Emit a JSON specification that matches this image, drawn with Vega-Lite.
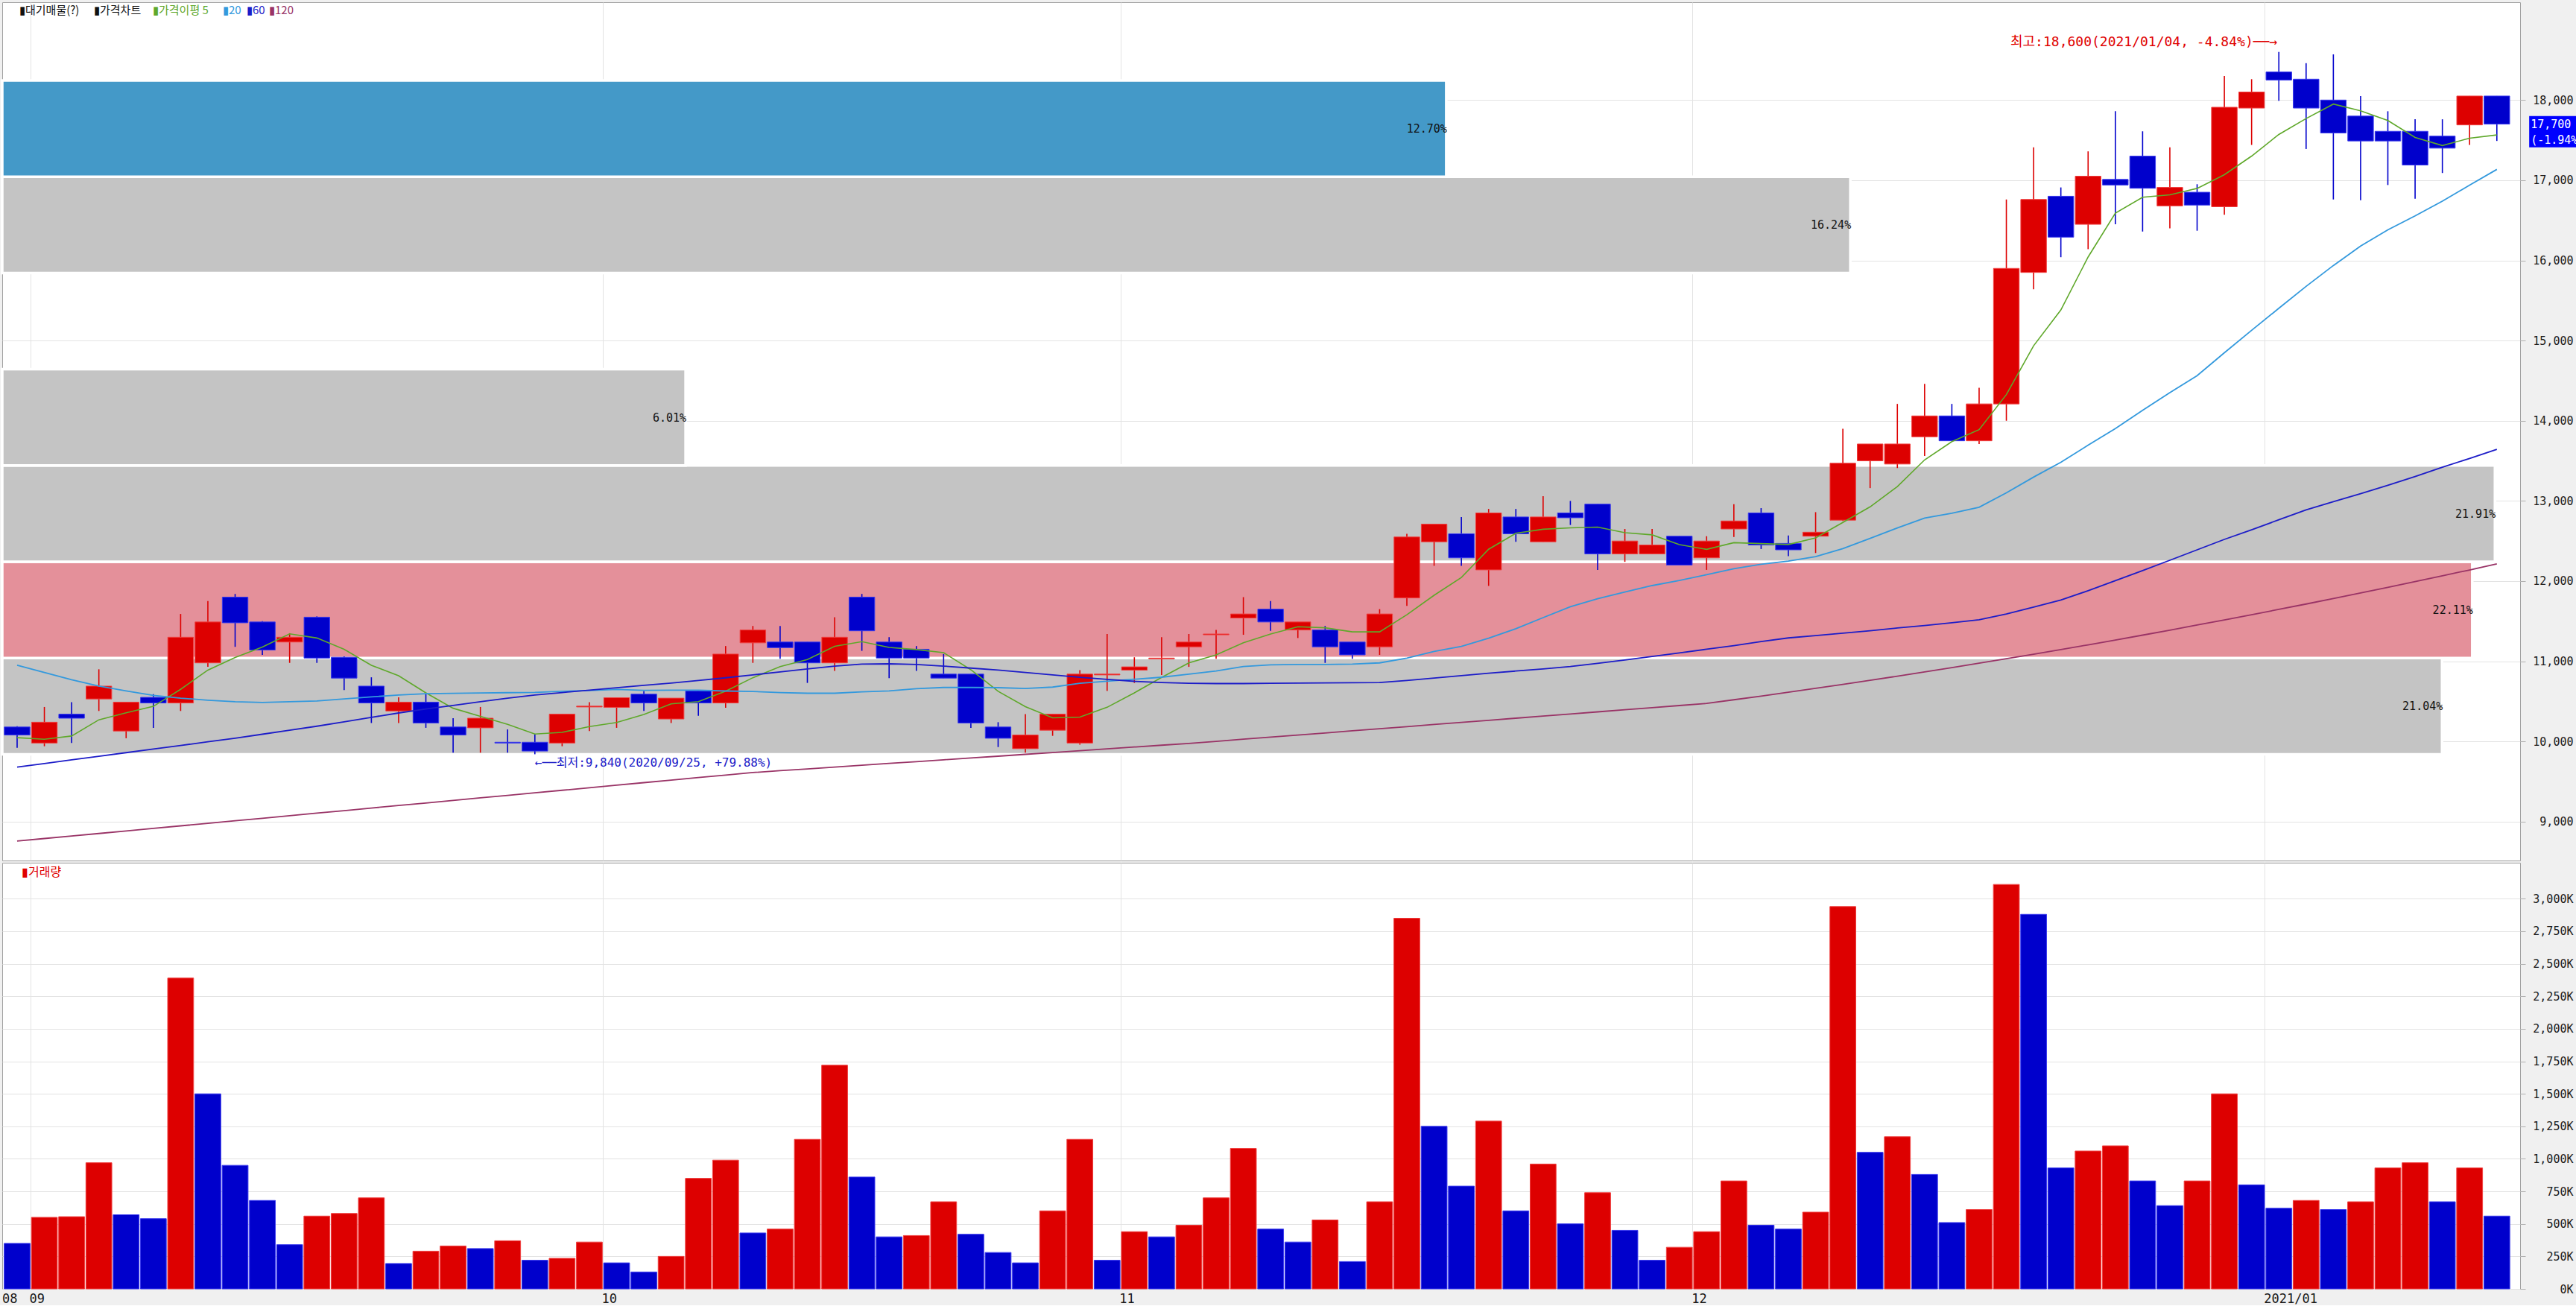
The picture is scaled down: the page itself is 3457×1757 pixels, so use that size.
{
"$schema": "https://vega.github.io/schema/vega-lite/v6.json",
"background": "#f0f0f0",
"padding": {"left": 0, "top": 2, "right": 0, "bottom": 0},
"spacing": 1,
"config": {
  "view": {"fill": "white", "stroke": "#a0a0a0"},
  "axis": {"domain": false, "gridColor": "#e3e3e3", "tickColor": "#b0b0b0", "labelFont": "DejaVu Sans Mono", "labelFontSize": 15, "labelColor": "#1a1a1a"},
  "text": {"font": "Noto Sans CJK KR"}
},
"datasets": {
"bands": [
 {"lo": 9840, "hi": 11041, "amt": 0.969, "pct": "21.04%", "kind": "n"},
 {"lo": 11041, "hi": 12241, "amt": 0.981, "pct": "22.11%", "kind": "max"},
 {"lo": 12241, "hi": 13442, "amt": 0.99, "pct": "21.91%", "kind": "n"},
 {"lo": 13442, "hi": 14643, "amt": 0.2714, "pct": "6.01%", "kind": "n"},
 {"lo": 15843, "hi": 17044, "amt": 0.734, "pct": "16.24%", "kind": "n"},
 {"lo": 17044, "hi": 18245, "amt": 0.5735, "pct": "12.70%", "kind": "cur"}
],
"k": [
{"d":"2020-08-31","o":10180,"h":10190,"l":9920,"c":10080,"v":350000,"vd":"d","m5":10047,"m20":10950,"m60":9680,"m120":8757},
{"d":"2020-09-01","o":9980,"h":10430,"l":9940,"c":10240,"v":550000,"vd":"u","m5":10028,"m20":10860,"m60":9725,"m120":8789},
{"d":"2020-09-02","o":10340,"h":10490,"l":9980,"c":10290,"v":555000,"vd":"u","m5":10068,"m20":10770,"m60":9770,"m120":8820},
{"d":"2020-09-03","o":10530,"h":10900,"l":10380,"c":10690,"v":970000,"vd":"u","m5":10270,"m20":10690,"m60":9815,"m120":8852},
{"d":"2020-09-04","o":10130,"h":10490,"l":10040,"c":10490,"v":570000,"vd":"d","m5":10358,"m20":10630,"m60":9860,"m120":8884},
{"d":"2020-09-07","o":10550,"h":10590,"l":10170,"c":10480,"v":540000,"vd":"d","m5":10438,"m20":10575,"m60":9905,"m120":8916},
{"d":"2020-09-08","o":10480,"h":11590,"l":10380,"c":11300,"v":2390000,"vd":"u","m5":10650,"m20":10540,"m60":9950,"m120":8947},
{"d":"2020-09-09","o":10980,"h":11750,"l":10930,"c":11490,"v":1500000,"vd":"d","m5":10890,"m20":10515,"m60":9995,"m120":8979},
{"d":"2020-09-10","o":11800,"h":11840,"l":11180,"c":11480,"v":950000,"vd":"d","m5":11048,"m20":10495,"m60":10040,"m120":9011},
{"d":"2020-09-11","o":11490,"h":11500,"l":11080,"c":11140,"v":680000,"vd":"d","m5":11178,"m20":10487,"m60":10090,"m120":9042},
{"d":"2020-09-14","o":11240,"h":11350,"l":10980,"c":11300,"v":340000,"vd":"d","m5":11342,"m20":10495,"m60":10140,"m120":9074},
{"d":"2020-09-15","o":11550,"h":11560,"l":10980,"c":11040,"v":560000,"vd":"u","m5":11290,"m20":10505,"m60":10190,"m120":9106},
{"d":"2020-09-16","o":11050,"h":11060,"l":10640,"c":10790,"v":580000,"vd":"u","m5":11150,"m20":10530,"m60":10245,"m120":9137},
{"d":"2020-09-17","o":10690,"h":10800,"l":10230,"c":10480,"v":700000,"vd":"u","m5":10950,"m20":10555,"m60":10300,"m120":9169},
{"d":"2020-09-18","o":10380,"h":10550,"l":10230,"c":10490,"v":195000,"vd":"d","m5":10820,"m20":10580,"m60":10355,"m120":9201},
{"d":"2020-09-21","o":10490,"h":10590,"l":10170,"c":10230,"v":290000,"vd":"u","m5":10606,"m20":10595,"m60":10405,"m120":9232},
{"d":"2020-09-22","o":10180,"h":10290,"l":9860,"c":10080,"v":330000,"vd":"u","m5":10414,"m20":10600,"m60":10450,"m120":9264},
{"d":"2020-09-23","o":10170,"h":10430,"l":9860,"c":10290,"v":310000,"vd":"d","m5":10314,"m20":10605,"m60":10495,"m120":9296},
{"d":"2020-09-24","o":9990,"h":10150,"l":9860,"c":9980,"v":370000,"vd":"u","m5":10214,"m20":10608,"m60":10540,"m120":9327},
{"d":"2020-09-25","o":9990,"h":10090,"l":9840,"c":9880,"v":220000,"vd":"d","m5":10092,"m20":10612,"m60":10580,"m120":9359},
{"d":"2020-09-28","o":9980,"h":10340,"l":9940,"c":10340,"v":235000,"vd":"u","m5":10114,"m20":10625,"m60":10610,"m120":9391},
{"d":"2020-09-29","o":10430,"h":10490,"l":10130,"c":10440,"v":360000,"vd":"u","m5":10186,"m20":10635,"m60":10640,"m120":9422},
{"d":"2020-10-05","o":10425,"h":10545,"l":10170,"c":10545,"v":200000,"vd":"d","m5":10237,"m20":10648,"m60":10670,"m120":9454},
{"d":"2020-10-06","o":10590,"h":10630,"l":10380,"c":10480,"v":130000,"vd":"d","m5":10337,"m20":10637,"m60":10700,"m120":9486},
{"d":"2020-10-07","o":10280,"h":10540,"l":10230,"c":10540,"v":250000,"vd":"u","m5":10469,"m20":10640,"m60":10728,"m120":9517},
{"d":"2020-10-08","o":10630,"h":10630,"l":10320,"c":10480,"v":850000,"vd":"u","m5":10496,"m20":10640,"m60":10760,"m120":9549},
{"d":"2020-10-12","o":10480,"h":11190,"l":10420,"c":11090,"v":990000,"vd":"u","m5":10626,"m20":10629,"m60":10794,"m120":9581},
{"d":"2020-10-13","o":11230,"h":11440,"l":10980,"c":11390,"v":430000,"vd":"d","m5":10795,"m20":10624,"m60":10830,"m120":9612},
{"d":"2020-10-14","o":11240,"h":11440,"l":11030,"c":11170,"v":460000,"vd":"u","m5":10934,"m20":10609,"m60":10868,"m120":9635},
{"d":"2020-10-15","o":11240,"h":11240,"l":10730,"c":10980,"v":1150000,"vd":"u","m5":11022,"m20":10601,"m60":10905,"m120":9657},
{"d":"2020-10-16","o":10980,"h":11550,"l":10880,"c":11300,"v":1720000,"vd":"u","m5":11186,"m20":10601,"m60":10940,"m120":9680},
{"d":"2020-10-19","o":11800,"h":11840,"l":11130,"c":11380,"v":860000,"vd":"d","m5":11245,"m20":10618,"m60":10965,"m120":9703},
{"d":"2020-10-20","o":11240,"h":11300,"l":10790,"c":11040,"v":400000,"vd":"d","m5":11173,"m20":10630,"m60":10968,"m120":9726},
{"d":"2020-10-21","o":11150,"h":11190,"l":10880,"c":11040,"v":410000,"vd":"u","m5":11146,"m20":10658,"m60":10960,"m120":9748},
{"d":"2020-10-22","o":10840,"h":11090,"l":10790,"c":10790,"v":670000,"vd":"u","m5":11107,"m20":10673,"m60":10940,"m120":9771},
{"d":"2020-10-23","o":10840,"h":10840,"l":10170,"c":10230,"v":420000,"vd":"d","m5":10894,"m20":10673,"m60":10915,"m120":9794},
{"d":"2020-10-26","o":10180,"h":10240,"l":9930,"c":10040,"v":280000,"vd":"d","m5":10625,"m20":10671,"m60":10890,"m120":9816},
{"d":"2020-10-27","o":9910,"h":10340,"l":9860,"c":10080,"v":200000,"vd":"d","m5":10434,"m20":10660,"m60":10860,"m120":9839},
{"d":"2020-10-28","o":10140,"h":10340,"l":10070,"c":10340,"v":600000,"vd":"u","m5":10294,"m20":10678,"m60":10830,"m120":9862},
{"d":"2020-10-29","o":9980,"h":10890,"l":9960,"c":10840,"v":1150000,"vd":"u","m5":10304,"m20":10726,"m60":10800,"m120":9885},
{"d":"2020-10-30","o":10830,"h":11340,"l":10630,"c":10840,"v":220000,"vd":"d","m5":10426,"m20":10751,"m60":10775,"m120":9907},
{"d":"2020-11-02","o":10890,"h":11050,"l":10730,"c":10930,"v":440000,"vd":"u","m5":10606,"m20":10776,"m60":10750,"m120":9930},
{"d":"2020-11-03","o":11030,"h":11300,"l":10830,"c":11040,"v":400000,"vd":"d","m5":10798,"m20":10801,"m60":10735,"m120":9953},
{"d":"2020-11-04","o":11180,"h":11340,"l":10930,"c":11240,"v":490000,"vd":"u","m5":10979,"m20":10839,"m60":10725,"m120":9975},
{"d":"2020-11-05","o":11330,"h":11390,"l":11030,"c":11340,"v":700000,"vd":"u","m5":11079,"m20":10879,"m60":10722,"m120":10001},
{"d":"2020-11-06","o":11540,"h":11800,"l":11330,"c":11590,"v":1080000,"vd":"u","m5":11230,"m20":10935,"m60":10722,"m120":10028},
{"d":"2020-11-09","o":11650,"h":11750,"l":11380,"c":11490,"v":460000,"vd":"d","m5":11340,"m20":10955,"m60":10725,"m120":10054},
{"d":"2020-11-10","o":11390,"h":11490,"l":11290,"c":11490,"v":360000,"vd":"d","m5":11430,"m20":10960,"m60":10728,"m120":10080},
{"d":"2020-11-11","o":11390,"h":11440,"l":10980,"c":11180,"v":530000,"vd":"u","m5":11418,"m20":10960,"m60":10730,"m120":10106},
{"d":"2020-11-12","o":11240,"h":11240,"l":11030,"c":11080,"v":210000,"vd":"d","m5":11367,"m20":10965,"m60":10732,"m120":10133},
{"d":"2020-11-13","o":11180,"h":11650,"l":11080,"c":11590,"v":670000,"vd":"u","m5":11367,"m20":10980,"m60":10735,"m120":10159},
{"d":"2020-11-16","o":11790,"h":12590,"l":11690,"c":12550,"v":2850000,"vd":"u","m5":11580,"m20":11038,"m60":10760,"m120":10185},
{"d":"2020-11-17","o":12490,"h":12710,"l":12190,"c":12710,"v":1250000,"vd":"d","m5":11823,"m20":11122,"m60":10790,"m120":10212},
{"d":"2020-11-18","o":12590,"h":12800,"l":12190,"c":12290,"v":790000,"vd":"d","m5":12045,"m20":11185,"m60":10820,"m120":10238},
{"d":"2020-11-19","o":12140,"h":12900,"l":11940,"c":12850,"v":1290000,"vd":"u","m5":12397,"m20":11288,"m60":10850,"m120":10264},
{"d":"2020-11-20","o":12800,"h":12900,"l":12490,"c":12590,"v":600000,"vd":"d","m5":12596,"m20":11406,"m60":10878,"m120":10290},
{"d":"2020-11-23","o":12490,"h":13060,"l":12490,"c":12800,"v":960000,"vd":"u","m5":12647,"m20":11544,"m60":10905,"m120":10317},
{"d":"2020-11-24","o":12850,"h":13000,"l":12700,"c":12790,"v":500000,"vd":"d","m5":12664,"m20":11680,"m60":10935,"m120":10343},
{"d":"2020-11-25","o":12960,"h":12960,"l":12140,"c":12340,"v":740000,"vd":"u","m5":12673,"m20":11780,"m60":10975,"m120":10369},
{"d":"2020-11-26","o":12340,"h":12650,"l":12240,"c":12500,"v":450000,"vd":"d","m5":12603,"m20":11863,"m60":11015,"m120":10396},
{"d":"2020-11-27","o":12340,"h":12650,"l":12340,"c":12450,"v":220000,"vd":"d","m5":12577,"m20":11944,"m60":11060,"m120":10422},
{"d":"2020-11-30","o":12560,"h":12560,"l":12200,"c":12200,"v":320000,"vd":"u","m5":12455,"m20":12007,"m60":11105,"m120":10448},
{"d":"2020-12-01","o":12290,"h":12560,"l":12140,"c":12500,"v":440000,"vd":"u","m5":12396,"m20":12080,"m60":11150,"m120":10474},
{"d":"2020-12-02","o":12650,"h":12960,"l":12550,"c":12750,"v":830000,"vd":"u","m5":12479,"m20":12155,"m60":11195,"m120":10520},
{"d":"2020-12-03","o":12850,"h":12910,"l":12400,"c":12450,"v":490000,"vd":"d","m5":12468,"m20":12210,"m60":11245,"m120":10566},
{"d":"2020-12-04","o":12470,"h":12570,"l":12310,"c":12390,"v":460000,"vd":"d","m5":12456,"m20":12250,"m60":11291,"m120":10614},
{"d":"2020-12-07","o":12560,"h":12860,"l":12350,"c":12610,"v":590000,"vd":"u","m5":12539,"m20":12306,"m60":11320,"m120":10662},
{"d":"2020-12-08","o":12760,"h":13900,"l":12750,"c":13470,"v":2940000,"vd":"u","m5":12732,"m20":12405,"m60":11350,"m120":10712},
{"d":"2020-12-09","o":13500,"h":13710,"l":13160,"c":13710,"v":1050000,"vd":"d","m5":12926,"m20":12532,"m60":11380,"m120":10763},
{"d":"2020-12-10","o":13460,"h":14210,"l":13410,"c":13710,"v":1170000,"vd":"u","m5":13179,"m20":12663,"m60":11415,"m120":10814},
{"d":"2020-12-11","o":13800,"h":14460,"l":13560,"c":14060,"v":880000,"vd":"d","m5":13512,"m20":12786,"m60":11445,"m120":10867},
{"d":"2020-12-14","o":14060,"h":14210,"l":13750,"c":13750,"v":510000,"vd":"d","m5":13740,"m20":12846,"m60":11480,"m120":10921},
{"d":"2020-12-15","o":13750,"h":14410,"l":13710,"c":14210,"v":610000,"vd":"u","m5":13889,"m20":12921,"m60":11517,"m120":10976},
{"d":"2020-12-16","o":14210,"h":16760,"l":14000,"c":15900,"v":3110000,"vd":"u","m5":14326,"m20":13101,"m60":11590,"m120":11032},
{"d":"2020-12-17","o":15850,"h":17410,"l":15640,"c":16760,"v":2880000,"vd":"d","m5":14935,"m20":13297,"m60":11675,"m120":11088},
{"d":"2020-12-18","o":16800,"h":16910,"l":16040,"c":16290,"v":930000,"vd":"d","m5":15382,"m20":13482,"m60":11763,"m120":11146},
{"d":"2020-12-21","o":16450,"h":17360,"l":16140,"c":17050,"v":1060000,"vd":"u","m5":16042,"m20":13695,"m60":11880,"m120":11205},
{"d":"2020-12-22","o":17010,"h":17860,"l":16450,"c":16940,"v":1100000,"vd":"u","m5":16589,"m20":13902,"m60":12005,"m120":11265},
{"d":"2020-12-23","o":17300,"h":17610,"l":16360,"c":16900,"v":830000,"vd":"d","m5":16788,"m20":14130,"m60":12131,"m120":11326},
{"d":"2020-12-24","o":16680,"h":17410,"l":16400,"c":16910,"v":640000,"vd":"d","m5":16818,"m20":14350,"m60":12260,"m120":11388},
{"d":"2020-12-28","o":16850,"h":16950,"l":16370,"c":16690,"v":830000,"vd":"u","m5":16898,"m20":14562,"m60":12390,"m120":11452},
{"d":"2020-12-29","o":16670,"h":18300,"l":16570,"c":17910,"v":1500000,"vd":"u","m5":17069,"m20":14848,"m60":12520,"m120":11516},
{"d":"2020-12-30","o":17900,"h":18260,"l":17440,"c":18100,"v":800000,"vd":"d","m5":17301,"m20":15128,"m60":12640,"m120":11581},
{"d":"2021-01-04","o":18350,"h":18600,"l":17990,"c":18250,"v":620000,"vd":"d","m5":17571,"m20":15403,"m60":12765,"m120":11647},
{"d":"2021-01-05","o":18260,"h":18460,"l":17390,"c":17900,"v":680000,"vd":"u","m5":17769,"m20":15676,"m60":12888,"m120":11714},
{"d":"2021-01-06","o":18000,"h":18570,"l":16760,"c":17590,"v":610000,"vd":"d","m5":17950,"m20":15936,"m60":12990,"m120":11782},
{"d":"2021-01-07","o":17800,"h":18050,"l":16750,"c":17490,"v":670000,"vd":"u","m5":17866,"m20":16180,"m60":13090,"m120":11852},
{"d":"2021-01-08","o":17610,"h":17860,"l":16940,"c":17490,"v":930000,"vd":"u","m5":17744,"m20":16381,"m60":13194,"m120":11922},
{"d":"2021-01-11","o":17610,"h":17760,"l":16770,"c":17190,"v":970000,"vd":"u","m5":17533,"m20":16555,"m60":13305,"m120":11993},
{"d":"2021-01-12","o":17550,"h":17760,"l":17090,"c":17400,"v":670000,"vd":"d","m5":17433,"m20":16739,"m60":13420,"m120":12066},
{"d":"2021-01-13","o":17690,"h":18050,"l":17440,"c":18050,"v":930000,"vd":"u","m5":17524,"m20":16938,"m60":13530,"m120":12139},
{"d":"2021-01-14","o":18050,"h":18050,"l":17490,"c":17700,"v":560000,"vd":"d","m5":17565,"m20":17135,"m60":13644,"m120":12214}
]
},
"vconcat": [
{
  "width": 3379, "height": 1152,
  "resolve": {"scale": {"x": "independent"}},
  "layer": [
    {
      "data": {"name": "bands"},
      "layer": [
        {"mark": {"type": "rect", "stroke": "white", "strokeWidth": 3.5},
         "encoding": {
           "x": {"field": "amt", "type": "quantitative", "scale": {"domain": [0, 1], "nice": false, "zero": true}, "axis": null},
           "x2": {"datum": 0},
           "y": {"field": "lo", "type": "quantitative", "scale": {"domain": [8515, 19220], "nice": false, "zero": false},
                 "axis": {"orient": "right", "values": [9000, 10000, 11000, 12000, 13000, 14000, 15000, 16000, 17000, 18000], "labelExpr": "format(datum.value, ',')", "grid": true, "ticks": true, "tickSize": 7, "labelAlign": "right", "labelPadding": 64, "title": null}},
           "y2": {"field": "hi"},
           "color": {"field": "kind", "type": "nominal", "scale": {"domain": ["cur", "max", "n"], "range": ["#4499c8", "#e4909a", "#c4c4c4"]}, "legend": null}
         }},
        {"mark": {"type": "text", "align": "right", "baseline": "middle", "dy": -64, "dx": 1, "font": "DejaVu Sans Mono", "fontSize": 15, "color": "#111111"},
         "encoding": {
           "x": {"field": "amt", "type": "quantitative", "scale": {"domain": [0, 1], "nice": false, "zero": true}, "axis": null},
           "y": {"field": "lo", "type": "quantitative", "scale": {"domain": [8515, 19220], "nice": false, "zero": false},
                 "axis": {"orient": "right", "values": [9000, 10000, 11000, 12000, 13000, 14000, 15000, 16000, 17000, 18000], "labelExpr": "format(datum.value, ',')", "grid": true, "ticks": true, "tickSize": 7, "labelAlign": "right", "labelPadding": 64, "title": null}},
           "text": {"field": "pct"}
         }}
      ]
    },
    {
      "data": {"name": "k"},
      "encoding": {
        "x": {"field": "d", "type": "ordinal", "scale": {"paddingInner": 0, "paddingOuter": 0.2, "align": 0.116},
              "axis": {"values": ["2020-09-01", "2020-10-05", "2020-11-02", "2020-12-01", "2021-01-04"], "bandPosition": 0, "grid": true, "labels": false, "ticks": false, "domain": false, "title": null}}
      },
      "layer": [
        {"mark": {"type": "rule", "strokeWidth": 1.6},
         "encoding": {
           "y": {"field": "l", "type": "quantitative", "scale": {"domain": [8515, 19220], "nice": false, "zero": false},
                 "axis": {"orient": "right", "values": [9000, 10000, 11000, 12000, 13000, 14000, 15000, 16000, 17000, 18000], "labelExpr": "format(datum.value, ',')", "grid": true, "ticks": true, "tickSize": 7, "labelAlign": "right", "labelPadding": 64, "title": null}},
           "y2": {"field": "h"},
           "color": {"condition": {"test": "datum.c > datum.o", "value": "#dd0000"}, "value": "#0000cc"}
         }},
        {"mark": {"type": "bar", "width": {"band": 0.94}, "strokeWidth": 1},
         "encoding": {
           "y": {"field": "o", "type": "quantitative", "scale": {"domain": [8515, 19220], "nice": false, "zero": false},
                 "axis": {"orient": "right", "values": [9000, 10000, 11000, 12000, 13000, 14000, 15000, 16000, 17000, 18000], "labelExpr": "format(datum.value, ',')", "grid": true, "ticks": true, "tickSize": 7, "labelAlign": "right", "labelPadding": 64, "title": null}},
           "y2": {"field": "c"},
           "color": {"condition": {"test": "datum.c > datum.o", "value": "#dd0000"}, "value": "#0000cc"},
           "stroke": {"condition": {"test": "datum.c > datum.o", "value": "#f04040"}, "value": "#3a3aee"}
         }},
        {"mark": {"type": "line", "color": "#5fa82a", "strokeWidth": 1.6},
         "encoding": {"y": {"field": "m5", "type": "quantitative", "scale": {"domain": [8515, 19220], "nice": false, "zero": false},
                 "axis": {"orient": "right", "values": [9000, 10000, 11000, 12000, 13000, 14000, 15000, 16000, 17000, 18000], "labelExpr": "format(datum.value, ',')", "grid": true, "ticks": true, "tickSize": 7, "labelAlign": "right", "labelPadding": 64, "title": null}}}},
        {"mark": {"type": "line", "color": "#3399dd", "strokeWidth": 1.8},
         "encoding": {"y": {"field": "m20", "type": "quantitative", "scale": {"domain": [8515, 19220], "nice": false, "zero": false},
                 "axis": {"orient": "right", "values": [9000, 10000, 11000, 12000, 13000, 14000, 15000, 16000, 17000, 18000], "labelExpr": "format(datum.value, ',')", "grid": true, "ticks": true, "tickSize": 7, "labelAlign": "right", "labelPadding": 64, "title": null}}}},
        {"mark": {"type": "line", "color": "#1c1cc8", "strokeWidth": 1.8},
         "encoding": {"y": {"field": "m60", "type": "quantitative", "scale": {"domain": [8515, 19220], "nice": false, "zero": false},
                 "axis": {"orient": "right", "values": [9000, 10000, 11000, 12000, 13000, 14000, 15000, 16000, 17000, 18000], "labelExpr": "format(datum.value, ',')", "grid": true, "ticks": true, "tickSize": 7, "labelAlign": "right", "labelPadding": 64, "title": null}}}},
        {"mark": {"type": "line", "color": "#993366", "strokeWidth": 1.8},
         "encoding": {"y": {"field": "m120", "type": "quantitative", "scale": {"domain": [8515, 19220], "nice": false, "zero": false},
                 "axis": {"orient": "right", "values": [9000, 10000, 11000, 12000, 13000, 14000, 15000, 16000, 17000, 18000], "labelExpr": "format(datum.value, ',')", "grid": true, "ticks": true, "tickSize": 7, "labelAlign": "right", "labelPadding": 64, "title": null}}}},
        {"transform": [{"filter": "datum.d == '2021-01-04'"}],
         "mark": {"type": "text", "align": "right", "baseline": "middle", "dy": -13, "dx": -2, "font": "DejaVu Sans Mono, Noto Sans CJK KR", "fontSize": 18, "color": "#e00000"},
         "encoding": {"y": {"field": "h", "type": "quantitative", "scale": {"domain": [8515, 19220], "nice": false, "zero": false},
                 "axis": {"orient": "right", "values": [9000, 10000, 11000, 12000, 13000, 14000, 15000, 16000, 17000, 18000], "labelExpr": "format(datum.value, ',')", "grid": true, "ticks": true, "tickSize": 7, "labelAlign": "right", "labelPadding": 64, "title": null}},
                      "text": {"value": "최고:18,600(2021/01/04, -4.84%)──→"}}},
        {"transform": [{"filter": "datum.d == '2020-09-25'"}],
         "mark": {"type": "text", "align": "left", "baseline": "middle", "dy": 12, "dx": 0, "font": "DejaVu Sans Mono, Noto Sans CJK KR", "fontSize": 16, "color": "#2020c8"},
         "encoding": {"y": {"field": "l", "type": "quantitative", "scale": {"domain": [8515, 19220], "nice": false, "zero": false},
                 "axis": {"orient": "right", "values": [9000, 10000, 11000, 12000, 13000, 14000, 15000, 16000, 17000, 18000], "labelExpr": "format(datum.value, ',')", "grid": true, "ticks": true, "tickSize": 7, "labelAlign": "right", "labelPadding": 64, "title": null}},
                      "text": {"value": "←──최저:9,840(2020/09/25, +79.88%)"}}},
        {"transform": [{"filter": "datum.d == '2020-08-31'"}],
         "mark": {"type": "text", "align": "left", "baseline": "middle", "dx": 3, "fontSize": 15, "color": "#111111"},
         "encoding": {"y": {"datum": 19118, "type": "quantitative", "scale": {"domain": [8515, 19220], "nice": false, "zero": false},
                 "axis": {"orient": "right", "values": [9000, 10000, 11000, 12000, 13000, 14000, 15000, 16000, 17000, 18000], "labelExpr": "format(datum.value, ',')", "grid": true, "ticks": true, "tickSize": 7, "labelAlign": "right", "labelPadding": 64, "title": null}},
                      "text": {"value": "▮대기매물(?)"}}},
        {"transform": [{"filter": "datum.d == '2020-08-31'"}],
         "mark": {"type": "text", "align": "left", "baseline": "middle", "dx": 103, "fontSize": 15, "color": "#111111"},
         "encoding": {"y": {"datum": 19118, "type": "quantitative", "scale": {"domain": [8515, 19220], "nice": false, "zero": false},
                 "axis": {"orient": "right", "values": [9000, 10000, 11000, 12000, 13000, 14000, 15000, 16000, 17000, 18000], "labelExpr": "format(datum.value, ',')", "grid": true, "ticks": true, "tickSize": 7, "labelAlign": "right", "labelPadding": 64, "title": null}},
                      "text": {"value": "▮가격차트"}}},
        {"transform": [{"filter": "datum.d == '2020-08-31'"}],
         "mark": {"type": "text", "align": "left", "baseline": "middle", "dx": 182, "fontSize": 15, "color": "#5fa82a"},
         "encoding": {"y": {"datum": 19118, "type": "quantitative", "scale": {"domain": [8515, 19220], "nice": false, "zero": false},
                 "axis": {"orient": "right", "values": [9000, 10000, 11000, 12000, 13000, 14000, 15000, 16000, 17000, 18000], "labelExpr": "format(datum.value, ',')", "grid": true, "ticks": true, "tickSize": 7, "labelAlign": "right", "labelPadding": 64, "title": null}},
                      "text": {"value": "▮가격이평 5"}}},
        {"transform": [{"filter": "datum.d == '2020-08-31'"}],
         "mark": {"type": "text", "align": "left", "baseline": "middle", "dx": 276, "fontSize": 15, "color": "#3399dd"},
         "encoding": {"y": {"datum": 19118, "type": "quantitative", "scale": {"domain": [8515, 19220], "nice": false, "zero": false},
                 "axis": {"orient": "right", "values": [9000, 10000, 11000, 12000, 13000, 14000, 15000, 16000, 17000, 18000], "labelExpr": "format(datum.value, ',')", "grid": true, "ticks": true, "tickSize": 7, "labelAlign": "right", "labelPadding": 64, "title": null}},
                      "text": {"value": "▮20"}}},
        {"transform": [{"filter": "datum.d == '2020-08-31'"}],
         "mark": {"type": "text", "align": "left", "baseline": "middle", "dx": 308, "fontSize": 15, "color": "#1c1cc8"},
         "encoding": {"y": {"datum": 19118, "type": "quantitative", "scale": {"domain": [8515, 19220], "nice": false, "zero": false},
                 "axis": {"orient": "right", "values": [9000, 10000, 11000, 12000, 13000, 14000, 15000, 16000, 17000, 18000], "labelExpr": "format(datum.value, ',')", "grid": true, "ticks": true, "tickSize": 7, "labelAlign": "right", "labelPadding": 64, "title": null}},
                      "text": {"value": "▮60"}}},
        {"transform": [{"filter": "datum.d == '2020-08-31'"}],
         "mark": {"type": "text", "align": "left", "baseline": "middle", "dx": 338, "fontSize": 15, "color": "#993366"},
         "encoding": {"y": {"datum": 19118, "type": "quantitative", "scale": {"domain": [8515, 19220], "nice": false, "zero": false},
                 "axis": {"orient": "right", "values": [9000, 10000, 11000, 12000, 13000, 14000, 15000, 16000, 17000, 18000], "labelExpr": "format(datum.value, ',')", "grid": true, "ticks": true, "tickSize": 7, "labelAlign": "right", "labelPadding": 64, "title": null}},
                      "text": {"value": "▮120"}}}
      ]
    },
    {
      "data": {"name": "k"},
      "transform": [{"filter": "datum.d == '2021-01-14'"}],
      "layer": [
        {"mark": {"type": "rect", "color": "#0000ff"},
         "encoding": {
           "x": {"datum": 1.0036, "type": "quantitative", "scale": {"domain": [0, 1], "nice": false, "zero": false}, "axis": null},
           "x2": {"datum": 1.04},
           "y": {"datum": 17800, "type": "quantitative", "scale": {"domain": [8515, 19220], "nice": false, "zero": false},
                 "axis": {"orient": "right", "values": [9000, 10000, 11000, 12000, 13000, 14000, 15000, 16000, 17000, 18000], "labelExpr": "format(datum.value, ',')", "grid": true, "ticks": true, "tickSize": 7, "labelAlign": "right", "labelPadding": 64, "title": null}},
           "y2": {"datum": 17410}
         }},
        {"mark": {"type": "text", "align": "left", "baseline": "middle", "dx": 2, "font": "DejaVu Sans Mono", "fontSize": 15, "color": "white"},
         "encoding": {
           "x": {"datum": 1.0036, "type": "quantitative", "scale": {"domain": [0, 1], "nice": false, "zero": false}, "axis": null},
           "y": {"field": "c", "type": "quantitative", "scale": {"domain": [8515, 19220], "nice": false, "zero": false},
                 "axis": {"orient": "right", "values": [9000, 10000, 11000, 12000, 13000, 14000, 15000, 16000, 17000, 18000], "labelExpr": "format(datum.value, ',')", "grid": true, "ticks": true, "tickSize": 7, "labelAlign": "right", "labelPadding": 64, "title": null}},
           "text": {"field": "c", "format": ","}
         }},
        {"mark": {"type": "text", "align": "left", "baseline": "middle", "dx": 2, "dy": 21, "font": "DejaVu Sans Mono", "fontSize": 15, "color": "white"},
         "encoding": {
           "x": {"datum": 1.0036, "type": "quantitative", "scale": {"domain": [0, 1], "nice": false, "zero": false}, "axis": null},
           "y": {"field": "c", "type": "quantitative", "scale": {"domain": [8515, 19220], "nice": false, "zero": false},
                 "axis": {"orient": "right", "values": [9000, 10000, 11000, 12000, 13000, 14000, 15000, 16000, 17000, 18000], "labelExpr": "format(datum.value, ',')", "grid": true, "ticks": true, "tickSize": 7, "labelAlign": "right", "labelPadding": 64, "title": null}},
           "text": {"value": "(-1.94%"}
         }}
      ]
    }
  ]
},
{
  "width": 3379, "height": 572,
  "data": {"name": "k"},
  "encoding": {
    "x": {"field": "d", "type": "ordinal", "scale": {"paddingInner": 0, "paddingOuter": 0.2, "align": 0.116},
          "axis": {"values": ["2020-08-31", "2020-09-01", "2020-10-05", "2020-11-02", "2020-12-01", "2021-01-04"],
                   "labelExpr": "datum.value == '2020-08-31' ? '08' : datum.value == '2020-09-01' ? '09' : datum.value == '2020-10-05' ? '10' : datum.value == '2020-11-02' ? '11' : datum.value == '2020-12-01' ? '12' : '2021/01'",
                   "bandPosition": 0, "labelAlign": "left", "labelAngle": 0, "labelOffset": -20, "labelPadding": 5, "labelFontSize": 17, "labelBaseline": "top",
                   "grid": true, "gridColor": {"condition": {"test": "datum.value == '2020-08-31'", "value": "transparent"}, "value": "#e3e3e3"},
                   "ticks": false, "domain": false, "labelOverlap": false, "labelFlush": false, "labelBound": false, "title": null}}
  },
  "layer": [
    {"mark": {"type": "bar", "width": {"band": 0.95}, "strokeWidth": 1},
     "encoding": {
       "y": {"field": "v", "type": "quantitative", "scale": {"domain": [0, 3277000], "nice": false, "zero": true},
             "axis": {"orient": "right", "values": [0, 250000, 500000, 750000, 1000000, 1250000, 1500000, 1750000, 2000000, 2250000, 2500000, 2750000, 3000000],
                      "labelExpr": "format(datum.value / 1000, ',') + 'K'", "grid": true, "ticks": true, "tickSize": 7, "labelAlign": "right", "labelPadding": 64, "title": null}},
       "color": {"condition": {"test": "datum.vd == 'u'", "value": "#dd0000"}, "value": "#0000cc"},
       "stroke": {"condition": {"test": "datum.vd == 'u'", "value": "#f04040"}, "value": "#3a3aee"}
     }},
    {"transform": [{"filter": "datum.d == '2020-08-31'"}],
     "mark": {"type": "text", "align": "left", "baseline": "middle", "dx": 6, "fontSize": 16, "color": "#e00000"},
     "encoding": {"y": {"datum": 3200000, "type": "quantitative", "scale": {"domain": [0, 3277000], "nice": false, "zero": true},
             "axis": {"orient": "right", "values": [0, 250000, 500000, 750000, 1000000, 1250000, 1500000, 1750000, 2000000, 2250000, 2500000, 2750000, 3000000],
                      "labelExpr": "format(datum.value / 1000, ',') + 'K'", "grid": true, "ticks": true, "tickSize": 7, "labelAlign": "right", "labelPadding": 64, "title": null}},
                  "text": {"value": "▮거래량"}}}
  ]
}
]
}
